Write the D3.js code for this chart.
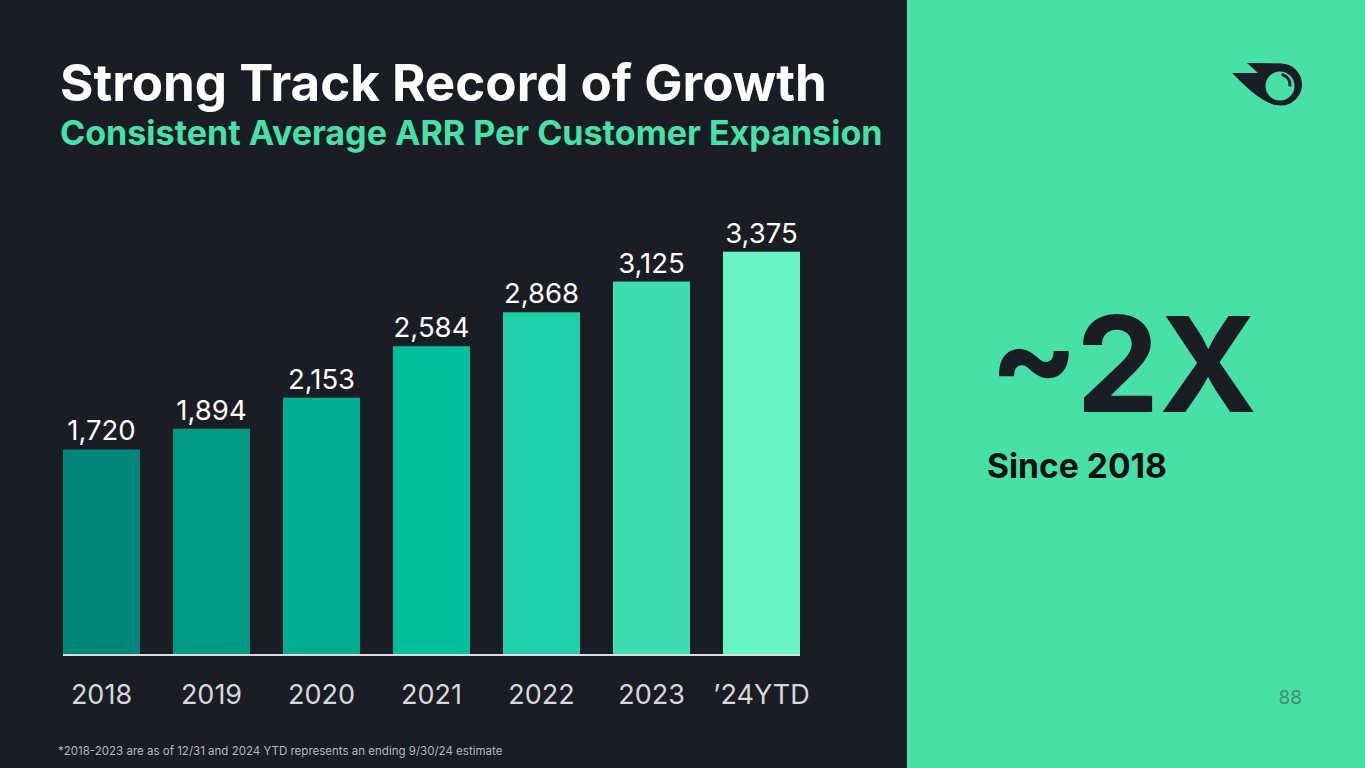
<!DOCTYPE html>
<html><head><meta charset="utf-8">
<script src="https://cdn.jsdelivr.net/npm/d3@7"></script>
<style>
html,body{margin:0;padding:0;background:#1b1d24;overflow:hidden;}
svg{display:block;font-family:Inter,"Noto Sans",sans-serif;}
</style></head>
<body>
<svg id="c" width="1365" height="768"></svg>
<script>
const categories = ["2018","2019","2020","2021","2022","2023","\u201924YTD"];
const values = [1720,1894,2153,2584,2868,3125,3375];
const valueLabels = ["1,720","1,894","2,153","2,584","2,868","3,125","3,375"];
const barColors = ["#00877a","#009a84","#00ad90","#00bf9b","#1ecfa9","#3ddcb1","#69f4c5"];
const title = "Strong Track Record of Growth";
const subtitle = "Consistent Average ARR Per Customer Expansion";
const bigStat = "~2X";
const bigStatSub = "Since 2018";
const footnote = "*2018-2023 are as of 12/31 and 2024 YTD represents an ending 9/30/24 estimate";
const pageNum = "88";

const svg = d3.select("#c");
function fit(sel, w){ const n=sel.node(); const l=n.getComputedTextLength(); const fs=parseFloat(sel.attr("font-size")); sel.attr("font-size", fs*w/l); return sel; }

svg.append("rect").attr("x",0).attr("y",0).attr("width",907).attr("height",768).attr("fill","#1b1d24");
svg.append("rect").attr("x",907).attr("y",0).attr("width",458).attr("height",768).attr("fill","#47e1a8");

fit(svg.append("text").attr("x",60).attr("y",101).attr("font-size",44).attr("font-weight",700).attr("fill","#ffffff").text(title),767);
fit(svg.append("text").attr("x",60).attr("y",145).attr("font-size",30).attr("font-weight",700).attr("fill","#47e1a8").text(subtitle),823);

const x = d3.scaleBand().domain(categories).range([46.5,816.5]).paddingInner(0.3).paddingOuter(0.15);
const y = d3.scaleLinear().domain([0,3500]).range([655,236.75]);

const g = svg.append("g");
g.selectAll("rect.bar").data(values).join("rect").attr("class","bar")
  .attr("x",(d,i)=>x(categories[i])).attr("width",x.bandwidth())
  .attr("y",d=>y(d)).attr("height",d=>y(0)-y(d))
  .attr("fill",(d,i)=>barColors[i]);
g.selectAll("text.val").data(values).join("text").attr("class","val")
  .attr("x",(d,i)=>x(categories[i])+x.bandwidth()/2).attr("y",d=>y(d)-9)
  .attr("text-anchor","middle").attr("font-size",27.5).attr("font-weight",400).attr("fill","#ffffff")
  .text((d,i)=>valueLabels[i]);

const xAxis = d3.axisBottom(x).tickSize(0).tickPadding(0);
const ax = svg.append("g").attr("transform",`translate(0,${y(0)})`).call(xAxis);
ax.select(".domain").attr("d",`M${x(categories[0])},0H${x(categories[categories.length-1])+x.bandwidth()}`)
  .attr("stroke","#d8dbe0").attr("stroke-width",2);
ax.selectAll(".tick text").attr("y",49).attr("dy",0).attr("font-size",27).attr("fill","#d6d8dc")
  .attr("font-family","Inter,'Noto Sans',sans-serif");

fit(svg.append("text").attr("x",989).attr("y",412).attr("font-size",136).attr("font-weight",700).attr("fill","#1b1d24").text(bigStat),268);
fit(svg.append("text").attr("x",987).attr("y",478).attr("font-size",34).attr("font-weight",700).attr("fill","#0d0f12").text(bigStatSub),180);

svg.append("text").attr("x",1302).attr("y",704).attr("text-anchor","end").attr("font-size",19).attr("fill","#4b8c72").text(pageNum);
fit(svg.append("text").attr("x",58).attr("y",755).attr("font-size",12).attr("fill","#b4b7bd").text(footnote),445);

// logo
const lg = svg.append("g");
lg.append("path").attr("d","M1247,63 L1281,63.5 L1275,105 C1260,101 1245,86 1232,73 L1258,73 Z").attr("fill","#1b1d24");
lg.append("circle").attr("cx",1281).attr("cy",84.5).attr("r",21).attr("fill","#1b1d24");
lg.append("circle").attr("cx",1280).attr("cy",86).attr("r",14.5).attr("fill","#47e1a8");
lg.append("path").attr("d","M1283,75 A10,10 0 0,1 1290,85").attr("fill","none").attr("stroke","#1b1d24").attr("stroke-width",3.2).attr("stroke-linecap","round");
</script>
</body></html>
